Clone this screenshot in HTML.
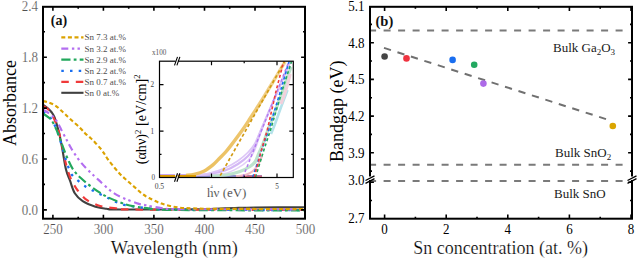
<!DOCTYPE html><html><head><meta charset="utf-8"><style>
html,body{margin:0;padding:0;background:#fff;}
svg{display:block;}
text{font-family:"Liberation Serif",serif;}
.th{stroke:#fff;stroke-width:0.22px;}
.tk{stroke:#fff;stroke-width:0.18px;}
</style></head><body>
<svg width="637" height="259" viewBox="0 0 637 259">
<rect width="637" height="259" fill="#fff"/>
<g fill="none" stroke-linecap="butt" stroke-linejoin="round">
<path d="M43.00,104.70 C43.80,105.28 46.33,106.90 47.80,108.20 C49.27,109.50 50.68,111.00 51.80,112.50 C52.92,114.00 53.57,114.85 54.50,117.20 C55.43,119.55 56.52,123.47 57.40,126.60 C58.28,129.73 58.95,132.10 59.80,136.00 C60.65,139.90 61.47,144.40 62.50,150.00 C63.53,155.60 64.75,164.48 66.00,169.60 C67.25,174.72 68.53,176.75 70.00,180.70 C71.47,184.65 72.68,189.88 74.80,193.30 C76.92,196.72 79.27,198.95 82.70,201.20 C86.13,203.45 91.43,205.53 95.40,206.80 C99.37,208.07 102.40,208.35 106.50,208.80 C110.60,209.25 105.25,209.40 120.00,209.50 C134.75,209.60 179.17,209.52 195.00,209.40 C210.83,209.28 208.33,209.03 215.00,208.80 C221.67,208.57 228.33,208.22 235.00,208.00 C241.67,207.78 243.50,207.62 255.00,207.50 C266.50,207.38 295.83,207.33 304.00,207.30" stroke="#404040" stroke-width="2.1"/>
<path d="M43.00,106.20 C43.80,106.67 46.08,107.17 47.80,109.00 C49.52,110.83 51.77,114.37 53.30,117.20 C54.83,120.03 55.88,122.87 57.00,126.00 C58.12,129.13 59.00,132.00 60.00,136.00 C61.00,140.00 62.08,145.67 63.00,150.00 C63.92,154.33 64.58,158.22 65.50,162.00 C66.42,165.78 67.42,169.45 68.50,172.70 C69.58,175.95 70.68,178.85 72.00,181.50 C73.32,184.15 74.90,186.43 76.40,188.60 C77.90,190.77 79.15,192.53 81.00,194.50 C82.85,196.47 84.32,198.48 87.50,200.40 C90.68,202.32 95.35,204.68 100.10,206.00 C104.85,207.32 110.18,207.72 116.00,208.30 C121.82,208.88 103.50,209.23 135.00,209.50 C166.50,209.77 276.67,209.83 305.00,209.90" stroke="#f03a3a" stroke-width="2.15" stroke-dasharray="7.5 7"/>
<path d="M43.00,112.10 C43.80,112.58 46.30,113.68 47.80,115.00 C49.30,116.32 50.63,117.83 52.00,120.00 C53.37,122.17 54.75,125.00 56.00,128.00 C57.25,131.00 58.33,134.33 59.50,138.00 C60.67,141.67 61.83,146.00 63.00,150.00 C64.17,154.00 65.07,157.95 66.50,162.00 C67.93,166.05 69.68,171.18 71.60,174.30 C73.52,177.42 75.75,178.72 78.00,180.70 C80.25,182.68 82.73,184.62 85.10,186.20 C87.47,187.78 89.70,188.88 92.20,190.20 C94.70,191.52 97.47,192.80 100.10,194.10 C102.73,195.40 105.35,196.68 108.00,198.00 C110.65,199.32 113.10,200.80 116.00,202.00 C118.90,203.20 121.98,204.40 125.40,205.20 C128.82,206.00 132.40,206.23 136.50,206.80 C140.60,207.37 144.42,208.13 150.00,208.60 C155.58,209.07 144.17,209.35 170.00,209.60 C195.83,209.85 282.50,210.02 305.00,210.10" stroke="#1a6ff0" stroke-width="2.3" stroke-dasharray="2.5 6.2"/>
<path d="M43.00,113.70 C43.80,114.22 46.30,115.58 47.80,116.80 C49.30,118.02 50.53,118.80 52.00,121.00 C53.47,123.20 55.27,127.00 56.60,130.00 C57.93,133.00 58.82,135.83 60.00,139.00 C61.18,142.17 62.37,145.58 63.70,149.00 C65.03,152.42 66.42,156.07 68.00,159.50 C69.58,162.93 71.02,166.47 73.20,169.60 C75.38,172.73 77.67,175.13 81.10,178.30 C84.53,181.47 89.32,185.43 93.80,188.60 C98.28,191.77 102.73,194.67 108.00,197.30 C113.27,199.93 120.65,202.82 125.40,204.40 C130.15,205.98 132.40,206.10 136.50,206.80 C140.60,207.50 144.42,208.08 150.00,208.60 C155.58,209.12 144.17,209.58 170.00,209.90 C195.83,210.22 282.50,210.40 305.00,210.50" stroke="#22a85c" stroke-width="2.15" stroke-dasharray="9.2 3.2 2.8 3.2"/>
<path d="M43.00,109.80 C43.80,110.25 46.33,111.58 47.80,112.50 C49.27,113.42 50.27,113.80 51.80,115.30 C53.33,116.80 55.27,118.78 57.00,121.50 C58.73,124.22 60.53,128.43 62.20,131.60 C63.87,134.77 65.43,137.60 67.00,140.50 C68.57,143.40 69.60,145.75 71.60,149.00 C73.60,152.25 76.35,156.57 79.00,160.00 C81.65,163.43 84.25,166.28 87.50,169.60 C90.75,172.92 94.28,176.08 98.50,179.90 C102.72,183.72 108.32,189.33 112.80,192.50 C117.28,195.67 121.18,197.05 125.40,198.90 C129.62,200.75 134.70,202.55 138.10,203.60 C141.50,204.65 141.88,204.45 145.80,205.20 C149.72,205.95 155.90,207.45 161.60,208.10 C167.30,208.75 156.10,208.88 180.00,209.10 C203.90,209.32 284.17,209.35 305.00,209.40" stroke="#b36ef0" stroke-width="2.15" stroke-dasharray="7 3.6 2.4 3.2 2.4 3.6"/>
<path d="M43.00,101.10 C44.07,101.37 47.28,101.92 49.40,102.70 C51.52,103.48 53.80,104.55 55.70,105.80 C57.60,107.05 59.17,108.75 60.80,110.20 C62.43,111.65 63.70,112.82 65.50,114.50 C67.30,116.18 69.25,118.15 71.60,120.30 C73.95,122.45 77.33,125.22 79.60,127.40 C81.87,129.58 83.42,131.67 85.20,133.40 C86.98,135.13 88.60,136.22 90.30,137.80 C92.00,139.38 93.60,140.98 95.40,142.90 C97.20,144.82 99.58,147.45 101.10,149.30 C102.62,151.15 103.35,152.30 104.50,154.00 C105.65,155.70 106.45,157.37 108.00,159.50 C109.55,161.63 111.88,164.47 113.80,166.80 C115.72,169.13 117.63,171.52 119.50,173.50 C121.37,175.48 123.08,176.95 125.00,178.70 C126.92,180.45 129.00,182.23 131.00,184.00 C133.00,185.77 135.08,187.63 137.00,189.30 C138.92,190.97 140.50,192.55 142.50,194.00 C144.50,195.45 145.82,196.40 149.00,198.00 C152.18,199.60 156.85,202.03 161.60,203.60 C166.35,205.17 172.22,206.60 177.50,207.40 C182.78,208.20 187.05,208.17 193.30,208.40 C199.55,208.63 196.38,208.68 215.00,208.80 C233.62,208.92 290.00,209.05 305.00,209.10" stroke="#dba200" stroke-width="2.15" stroke-dasharray="4 2.6"/>
</g>
<rect x="159.5" y="61.2" width="133.8" height="116.3" fill="#fff" stroke="none"/>
<defs><linearGradient id="og" gradientUnits="userSpaceOnUse" x1="0" y1="176" x2="0" y2="61"><stop offset="0" stop-color="#ebc060"/><stop offset="0.55" stop-color="#eec771"/><stop offset="1" stop-color="#f3d8a2"/></linearGradient></defs>
<g fill="none" stroke-linejoin="round" stroke-linecap="butt">
<path d="M160,174.6 H215" stroke="#c9a6f2" stroke-width="1.2"/>
<path d="M195,176.2 H262" stroke="#8e8ccc" stroke-width="2.4"/>
<path d="M240,176.4 H262" stroke="#d86a80" stroke-width="1.8"/>
<path d="M236.00,176.20 C237.67,175.97 243.17,175.67 246.00,174.80 C248.83,173.93 251.00,172.63 253.00,171.00 C255.00,169.37 256.50,167.50 258.00,165.00 C259.50,162.50 261.33,157.50 262.00,156.00" stroke="#f2b9c4" stroke-width="2.2"/>
<path d="M196.00,175.20 C198.33,175.12 205.17,174.98 210.00,174.70 C214.83,174.42 220.33,174.63 225.00,173.50 C229.67,172.37 234.17,170.07 238.00,167.90 C241.83,165.73 245.25,163.38 248.00,160.50 C250.75,157.62 252.30,155.43 254.50,150.60 C256.70,145.77 258.62,138.43 261.20,131.50 C263.78,124.57 267.17,115.92 270.00,109.00 C272.83,102.08 275.78,95.67 278.20,90.00 C280.62,84.33 282.48,79.70 284.50,75.00 C286.52,70.30 289.33,64.00 290.30,61.80" stroke="#e2cff8" stroke-width="1.6"/>
<path d="M196.00,175.20 C198.33,174.97 205.17,174.58 210.00,173.80 C214.83,173.02 220.33,172.13 225.00,170.50 C229.67,168.87 234.17,166.42 238.00,164.00 C241.83,161.58 245.25,158.83 248.00,156.00 C250.75,153.17 252.30,151.33 254.50,147.00 C256.70,142.67 258.62,136.33 261.20,130.00 C263.78,123.67 267.17,115.67 270.00,109.00 C272.83,102.33 275.78,95.67 278.20,90.00 C280.62,84.33 282.48,79.70 284.50,75.00 C286.52,70.30 289.33,64.00 290.30,61.80" stroke="#d4b8f5" stroke-width="2.2"/>
<path d="M196.00,175.20 C198.33,174.84 205.17,174.25 210.00,173.05 C214.83,171.85 220.33,170.05 225.00,168.00 C229.67,165.95 234.17,163.38 238.00,160.75 C241.83,158.12 245.25,155.04 248.00,152.25 C250.75,149.46 252.30,147.92 254.50,144.00 C256.70,140.08 258.62,134.58 261.20,128.75 C263.78,122.92 267.17,115.46 270.00,109.00 C272.83,102.54 275.78,95.67 278.20,90.00 C280.62,84.33 282.48,79.70 284.50,75.00 C286.52,70.30 289.33,64.00 290.30,61.80" stroke="#dcc5f7" stroke-width="1.6"/>
<path d="M210.00,176.20 C212.67,176.00 221.00,175.78 226.00,175.00 C231.00,174.22 236.00,172.92 240.00,171.50 C244.00,170.08 247.50,168.08 250.00,166.50 C252.50,164.92 253.50,164.25 255.00,162.00 C256.50,159.75 257.63,156.12 259.00,153.00 C260.37,149.88 261.70,147.13 263.20,143.30 C264.70,139.47 266.20,134.88 268.00,130.00 C269.80,125.12 272.17,118.83 274.00,114.00 C275.83,109.17 277.33,105.50 279.00,101.00 C280.67,96.50 282.42,91.50 284.00,87.00 C285.58,82.50 287.33,77.33 288.50,74.00 C289.67,70.67 290.58,68.17 291.00,67.00" stroke="#bde3cd" stroke-width="3.2"/>
<path d="M271.00,134.00 C271.67,132.33 273.50,128.00 275.00,124.00 C276.50,120.00 278.42,114.33 280.00,110.00 C281.58,105.67 283.25,101.33 284.50,98.00 C285.75,94.67 287.00,91.33 287.50,90.00" stroke="#b4e2ea" stroke-width="2.6"/>
<path d="M281.00,104.00 C281.67,102.17 283.83,96.50 285.00,93.00 C286.17,89.50 287.13,86.17 288.00,83.00 C288.87,79.83 289.83,75.50 290.20,74.00" stroke="#f2d0dc" stroke-width="3"/>
<path d="M186.00,175.40 C187.35,175.23 191.05,175.13 194.10,174.40 C197.15,173.67 201.12,172.63 204.30,171.00 C207.48,169.37 210.65,166.73 213.20,164.60 C215.75,162.47 217.47,160.37 219.60,158.20 C221.73,156.03 224.10,153.73 226.00,151.60 C227.90,149.47 228.27,149.00 231.00,145.40 C233.73,141.80 239.17,134.57 242.40,130.00 C245.63,125.43 247.13,123.00 250.40,118.00 C253.67,113.00 258.65,105.33 262.00,100.00 C265.35,94.67 267.83,90.42 270.50,86.00 C273.17,81.58 276.00,76.83 278.00,73.50 C280.00,70.17 281.30,67.95 282.50,66.00 C283.70,64.05 284.75,62.50 285.20,61.80" stroke="url(#og)" stroke-width="3.4"/>
<path d="M160,176.3 H196" stroke="#d99a00" stroke-width="2.6"/>
<path d="M220.2,175.6 L284.6,61.6" stroke="#d29a12" stroke-width="1.7" stroke-dasharray="3.2 2.4"/>
<path d="M243,177 L288.9,61.6" stroke="#b27af0" stroke-width="1.5" stroke-dasharray="3 2.4"/>
<path d="M255.5,177.2 L264.5,148 L270.5,130 L282.3,90 L291.5,61.6" stroke="#22a85c" stroke-width="1.6" stroke-dasharray="3 2.4"/>
<path d="M252.8,177.2 L262.3,148 L268.7,130 L280.8,90 L289,61.6" stroke="#1a6ff0" stroke-width="1.6" stroke-dasharray="3 2.4"/>
<path d="M254.2,177.2 L261.5,150 L267.3,130 L276.3,90 L283.7,61.6" stroke="#f03a3a" stroke-width="1.6" stroke-dasharray="3 2.4"/>
</g>
<rect x="159.5" y="61.2" width="133.8" height="116.3" fill="none" stroke="#000" stroke-width="1.2"/>
<path d="M211.5,61.2 v4 M211.5,177.5 v-4 M244.2,61.2 v2 M244.2,177.5 v-2 M277.0,61.2 v4 M277.0,177.5 v-4 M159.5,154.4 h2 M293.3,154.4 h-2 M159.5,131.2 h4 M293.3,131.2 h-4 M159.5,107.9 h2 M293.3,107.9 h-2 M159.5,84.7 h4 M293.3,84.7 h-4" stroke="#000" stroke-width="1.2" fill="none"/>
<path d="M175.8,57.2 L177.8,65.2" stroke="#fff" stroke-width="2.2"/>
<path d="M174.5,65.4 L177.5,56.900000000000006 M176.9,65.4 L179.9,56.900000000000006" stroke="#000" stroke-width="1.1"/>
<path d="M175.8,173.5 L177.8,181.5" stroke="#fff" stroke-width="2.2"/>
<path d="M174.5,181.7 L177.5,173.2 M176.9,181.7 L179.9,173.2" stroke="#000" stroke-width="1.1"/>
<text x="152" y="55.2" font-size="7.2" fill="#555">x100</text>
<text x="154" y="87.1" font-size="7.2" fill="#444" text-anchor="end">2</text>
<text x="154" y="134" font-size="7.2" fill="#444" text-anchor="end">1</text>
<text x="155" y="180.2" font-size="7.2" fill="#444" text-anchor="end">0</text>
<text x="159.4" y="188.6" font-size="7.6" fill="#444" text-anchor="middle">0.5</text>
<text x="211.4" y="187.9" font-size="5" fill="#555" text-anchor="middle">4</text>
<text x="277" y="188.6" font-size="7.2" fill="#444" text-anchor="middle">5</text>
<text class="th" x="207" y="197.4" font-size="13" fill="#222">h&#957; (eV)</text>
<text transform="translate(145.6,164.3) rotate(-90)" font-size="14.2" fill="#000">(&#945;h&#957;)<tspan dy="-5" font-size="8.5">2</tspan><tspan dy="5"> [eV/cm]</tspan><tspan dy="-5.5" font-size="8.5">2</tspan></text>
<rect x="43" y="6.8" width="262" height="211.89999999999998" fill="none" stroke="#000" stroke-width="2"/>
<path d="M52.9,218.7 v-3.9 M52.9,6.8 v3.9 M78.2,218.7 v-2 M78.2,6.8 v2 M103.4,218.7 v-3.9 M103.4,6.8 v3.9 M128.7,218.7 v-2 M128.7,6.8 v2 M153.9,218.7 v-3.9 M153.9,6.8 v3.9 M179.2,218.7 v-2 M179.2,6.8 v2 M204.5,218.7 v-3.9 M204.5,6.8 v3.9 M229.7,218.7 v-2 M229.7,6.8 v2 M255.0,218.7 v-3.9 M255.0,6.8 v3.9 M280.3,218.7 v-2 M280.3,6.8 v2 M43,209.9 h3.9 M305,209.9 h-3.9 M43,184.4 h2 M305,184.4 h-2 M43,159.0 h3.9 M305,159.0 h-3.9 M43,133.5 h2 M305,133.5 h-2 M43,108.1 h3.9 M305,108.1 h-3.9 M43,82.6 h2 M305,82.6 h-2 M43,57.2 h3.9 M305,57.2 h-3.9 M43,31.7 h2 M305,31.7 h-2" stroke="#000" stroke-width="1.6" fill="none"/>
<path d="M61.3,37.3 H83.5" stroke="#dba200" stroke-width="2.15" fill="none" stroke-dasharray="4 2.6"/>
<text x="84.5" y="40.4" font-size="9" fill="#505050">Sn 7.3 at.%</text>
<path d="M61.3,48.6 H83.5" stroke="#b36ef0" stroke-width="2.15" fill="none" stroke-dasharray="7 3.6 2.4 3.2 2.4 3.6"/>
<text x="84.5" y="51.7" font-size="9" fill="#505050">Sn 3.2 at.%</text>
<path d="M61.3,59.6 H83.5" stroke="#22a85c" stroke-width="2.15" fill="none" stroke-dasharray="9.2 3.2 2.8 3.2"/>
<text x="84.5" y="62.7" font-size="9" fill="#505050">Sn 2.9 at.%</text>
<path d="M61.3,70.8 H83.5" stroke="#1a6ff0" stroke-width="2.3" fill="none" stroke-dasharray="2.5 6.2"/>
<text x="84.5" y="73.9" font-size="9" fill="#505050">Sn 2.2 at.%</text>
<path d="M61.3,81.8 H83.5" stroke="#f03a3a" stroke-width="2.15" fill="none" stroke-dasharray="7.5 7"/>
<text x="84.5" y="84.9" font-size="9" fill="#505050">Sn 0.7 at.%</text>
<path d="M61.3,92.8 H83.5" stroke="#404040" stroke-width="2.1" fill="none"/>
<text x="84.5" y="95.9" font-size="9" fill="#505050">Sn 0 at.%</text>
<text x="50.8" y="24.8" font-size="14" font-weight="bold" fill="#111">(a)</text>
<text class="tk" transform="translate(38.00,214.70) scale(1,1.1)" font-size="13" fill="#505050" text-anchor="end">0.0</text>
<text class="tk" transform="translate(38.00,163.79) scale(1,1.1)" font-size="13" fill="#505050" text-anchor="end">0.6</text>
<text class="tk" transform="translate(38.00,112.88) scale(1,1.1)" font-size="13" fill="#505050" text-anchor="end">1.2</text>
<text class="tk" transform="translate(38.00,61.97) scale(1,1.1)" font-size="13" fill="#505050" text-anchor="end">1.8</text>
<text class="tk" transform="translate(38.00,11.06) scale(1,1.1)" font-size="13" fill="#505050" text-anchor="end">2.4</text>
<text class="tk" transform="translate(52.90,233.90) scale(1,1.1)" font-size="13" fill="#505050" text-anchor="middle">250</text>
<text class="tk" transform="translate(103.42,233.90) scale(1,1.1)" font-size="13" fill="#505050" text-anchor="middle">300</text>
<text class="tk" transform="translate(153.95,233.90) scale(1,1.1)" font-size="13" fill="#505050" text-anchor="middle">350</text>
<text class="tk" transform="translate(204.47,233.90) scale(1,1.1)" font-size="13" fill="#505050" text-anchor="middle">400</text>
<text class="tk" transform="translate(255.00,233.90) scale(1,1.1)" font-size="13" fill="#505050" text-anchor="middle">450</text>
<text class="tk" transform="translate(305.52,233.90) scale(1,1.1)" font-size="13" fill="#505050" text-anchor="middle">500</text>
<text class="th" x="174.3" y="254.2" font-size="18.3" fill="#000" text-anchor="middle">Wavelength (nm)</text>
<text transform="translate(16,103) rotate(-90)" font-size="18" fill="#000" text-anchor="middle">Absorbance</text>
<path d="M369.1,30.6 H624.6" stroke="#7a7a7a" stroke-width="2" stroke-dasharray="7 7.5" fill="none"/>
<path d="M369.1,164.8 H624.6" stroke="#7a7a7a" stroke-width="2" stroke-dasharray="7 7.5" fill="none"/>
<path d="M369.1,181.0 H624.6" stroke="#7a7a7a" stroke-width="2" stroke-dasharray="7 7.5" fill="none"/>
<path d="M384,47.9 L606,119.1" stroke="#707070" stroke-width="2" stroke-dasharray="7.3 6.82" fill="none"/>
<circle cx="384.6" cy="56.5" r="3.3" fill="#454545"/>
<circle cx="406.5" cy="58.4" r="3.3" fill="#ef3340"/>
<circle cx="452.6" cy="59.9" r="3.3" fill="#1a6ef0"/>
<circle cx="474.2" cy="64.8" r="3.3" fill="#22a860"/>
<circle cx="483.4" cy="83.6" r="3.3" fill="#ad6ae8"/>
<circle cx="612.8" cy="126" r="3.3" fill="#daa500"/>
<rect x="370" y="6.8" width="262" height="211.89999999999998" fill="none" stroke="#000" stroke-width="2"/>
<path d="M384.6,218.7 v-4.2 M384.6,6.8 v4.2 M415.4,218.7 v-2 M415.4,6.8 v2 M446.2,218.7 v-4.2 M446.2,6.8 v4.2 M477.0,218.7 v-2 M477.0,6.8 v2 M507.8,218.7 v-4.2 M507.8,6.8 v4.2 M538.6,218.7 v-2 M538.6,6.8 v2 M569.4,218.7 v-4.2 M569.4,6.8 v4.2 M600.2,218.7 v-2 M600.2,6.8 v2 M631.0,218.7 v-4.2 M631.0,6.8 v4.2 M370,24.4 h2 M632,24.4 h-2 M370,42.7 h3.9 M632,42.7 h-3.9 M370,61.0 h2 M632,61.0 h-2 M370,79.4 h3.9 M632,79.4 h-3.9 M370,97.7 h2 M632,97.7 h-2 M370,116.1 h3.9 M632,116.1 h-3.9 M370,134.4 h2 M632,134.4 h-2 M370,152.8 h3.9 M632,152.8 h-3.9 M370,171.1 h2 M632,171.1 h-2 M370,182.3 h3.9 M632,182.3 h-3.9 M370,200.5 h2 M632,200.5 h-2" stroke="#000" stroke-width="1.6" fill="none"/>
<rect x="367" y="176.5" width="6" height="3.5" fill="#fff"/>
<path d="M365.5,180.5 L374.5,175.8 M365.5,183.3 L374.5,178.6" stroke="#000" stroke-width="1.3"/>
<rect x="629" y="176.5" width="6" height="3.5" fill="#fff"/>
<path d="M627.5,180.5 L636.5,175.8 M627.5,183.3 L636.5,178.6" stroke="#000" stroke-width="1.3"/>
<text x="375.5" y="26.3" font-size="14.5" font-weight="bold" fill="#111">(b)</text>
<text transform="translate(364.60,10.91) scale(1,1.1)" font-size="13" fill="#000" text-anchor="end">5.1</text>
<text transform="translate(364.60,47.60) scale(1,1.1)" font-size="13" fill="#000" text-anchor="end">4.8</text>
<text transform="translate(364.60,84.29) scale(1,1.1)" font-size="13" fill="#000" text-anchor="end">4.5</text>
<text transform="translate(364.60,120.98) scale(1,1.1)" font-size="13" fill="#000" text-anchor="end">4.2</text>
<text transform="translate(364.60,157.67) scale(1,1.1)" font-size="13" fill="#000" text-anchor="end">3.9</text>
<text transform="translate(364.60,185.10) scale(1,1.1)" font-size="13" fill="#000" text-anchor="end">3.0</text>
<text transform="translate(364.60,223.20) scale(1,1.1)" font-size="13" fill="#000" text-anchor="end">2.7</text>
<text transform="translate(384.60,234.20) scale(1,1.1)" font-size="13" fill="#000" text-anchor="middle">0</text>
<text transform="translate(446.20,234.20) scale(1,1.1)" font-size="13" fill="#000" text-anchor="middle">2</text>
<text transform="translate(507.80,234.20) scale(1,1.1)" font-size="13" fill="#000" text-anchor="middle">4</text>
<text transform="translate(569.40,234.20) scale(1,1.1)" font-size="13" fill="#000" text-anchor="middle">6</text>
<text transform="translate(631.00,234.20) scale(1,1.1)" font-size="13" fill="#000" text-anchor="middle">8</text>
<text class="th" x="500.6" y="254.2" font-size="18" fill="#000" text-anchor="middle">Sn concentration (at. %)</text>
<text transform="translate(343,111.2) rotate(-90)" font-size="18" fill="#000" text-anchor="middle">Bandgap (eV)</text>
<text x="553" y="51.7" font-size="13" fill="#1a1a1a">Bulk Ga<tspan dy="3.5" font-size="9">2</tspan><tspan dy="-3.5">O</tspan><tspan dy="3.5" font-size="9">3</tspan></text>
<text x="555" y="156.6" font-size="13" fill="#1a1a1a">Bulk SnO<tspan dy="3.5" font-size="9">2</tspan></text>
<text x="554" y="198.2" font-size="13" fill="#1a1a1a">Bulk SnO</text>
</svg></body></html>
